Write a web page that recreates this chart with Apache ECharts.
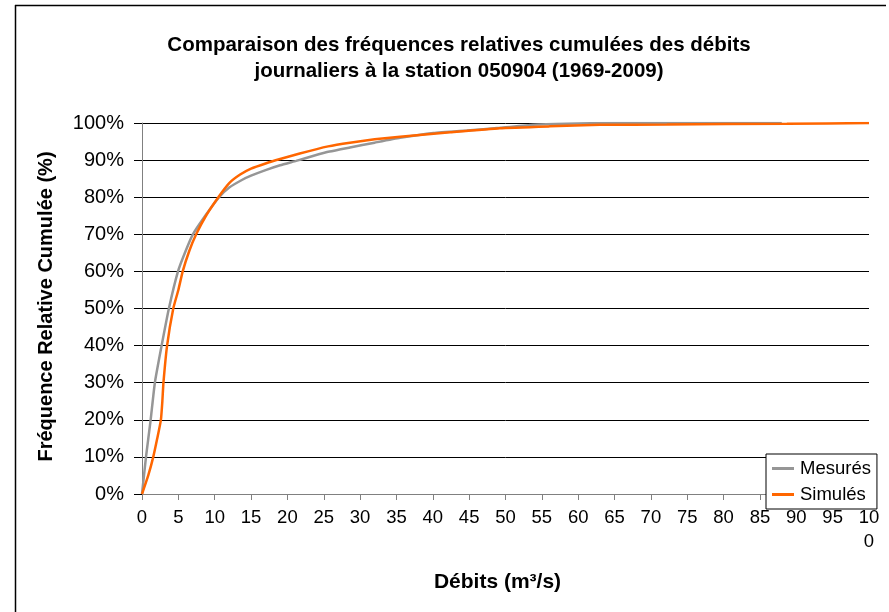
<!DOCTYPE html>
<html>
<head>
<meta charset="utf-8">
<script src="https://cdn.jsdelivr.net/npm/echarts@6/dist/echarts.min.js"></script>
<style>
html,body{margin:0;padding:0;background:#fff;}
#c{width:889px;height:612px;}
</style>
</head>
<body>
<div id="c"></div>
<script>
var titleText = 'Comparaison des fréquences relatives cumulées des débits\njournaliers à la station 050904 (1969-2009)';
var seriesNames = ['Mesurés', 'Simulés'];
var xTicks = [0,5,10,15,20,25,30,35,40,45,50,55,60,65,70,75,80,85,90,95,100];
var yTicks = [0,10,20,30,40,50,60,70,80,90,100];

var mesX = [0, 0.55, 1.19, 1.77, 2.7, 3.7, 4.95, 6.0, 7.0, 8.7, 10.6, 12.0, 13.8, 15.0, 17.0, 19.0, 21.2, 23.5, 25.8, 28.6, 32.0, 35.5, 40.1, 44.7, 49.2, 53.8, 58.4, 65, 75, 88];
var mesY = [0, 10, 20, 30, 40, 50, 60, 65.5, 70, 75, 80, 82.6, 84.7, 85.8, 87.3, 88.6, 89.8, 91.1, 92.3, 93.4, 94.7, 96.0, 97.3, 98.0, 98.7, 99.5, 99.8, 100, 100, 100];

var simX = [0, 0.86, 1.55, 2.1, 2.6, 2.8, 2.95, 3.45, 4.3, 5.0, 5.6, 6.5, 7.45, 8.8, 10.5, 12.0, 13.5, 15.0, 17.0, 19.0, 21.7, 25.6, 28.6, 32.0, 35.5, 42.4, 49.2, 56.1, 63, 72.2, 88.7, 100];
var simY = [0, 5, 10, 15, 20, 25, 30, 40, 50, 55, 60, 65.5, 70, 75, 80, 83.8, 86.1, 87.7, 89.1, 90.3, 91.8, 93.7, 94.7, 95.6, 96.3, 97.5, 98.6, 99.1, 99.5, 99.6, 99.8, 100];

function pairs(xs, ys){ return xs.map(function(x,i){ return [x, ys[i]]; }); }

var FONT = 'Liberation Sans, Arial, sans-serif';
var chart = echarts.init(document.getElementById('c'), null, {renderer:'canvas'});
chart.setOption({
  backgroundColor: '#ffffff',
  animation: false,
  title: {
    text: titleText,
    left: 454, top: 27, textAlign: 'center',
    textStyle: {fontFamily: FONT, fontSize: 20.5, fontWeight: 'bold', color: '#000', lineHeight: 26}
  },
  legend: {
    orient: 'vertical',
    left: 766, top: 454,
    backgroundColor: '#fff',
    borderColor: '#000', borderWidth: 1,
    padding: [5, 6, 5, 6],
    itemWidth: 22, itemHeight: 3, itemGap: 7,
    icon: 'rect',
    textStyle: {fontFamily: FONT, fontSize: 18.5, color: '#000', padding: [0,0,0,1]},
    data: seriesNames
  },
  grid: {left: 142, right: 20, top: 123, bottom: 118, containLabel: false},
  xAxis: {
    type: 'value', min: xTicks[0], max: xTicks[xTicks.length-1], interval: 5,
    name: 'Débits (m³/s)', nameLocation: 'middle', nameGap: 78,
    nameTextStyle: {fontFamily: FONT, fontSize: 21, fontWeight: 'bold', color: '#000', padding: [0, 16, 0, 0]},
    axisLine: {show: true, lineStyle: {color: '#808080', width: 1}},
    axisTick: {show: true, length: 6, inside: false, lineStyle: {color: '#808080'}},
    axisLabel: {
      fontFamily: FONT, fontSize: 18.5, color: '#000', margin: 12, lineHeight: 24,
      formatter: function(v){ return v === 100 ? '10\n0' : String(v); }
    },
    splitLine: {show: false}
  },
  yAxis: {
    type: 'value', min: yTicks[0], max: yTicks[yTicks.length-1], interval: 10,
    name: 'Fréquence Relative Cumulée (%)', nameLocation: 'middle', nameGap: 86, nameRotate: 90,
    nameTextStyle: {fontFamily: FONT, fontSize: 20, fontWeight: 'bold', color: '#000', padding: [0, 0, 0, 4]},
    axisLine: {show: true, lineStyle: {color: '#808080', width: 1}},
    axisTick: {show: true, length: 8, inside: false, lineStyle: {color: '#000'}},
    axisLabel: {fontFamily: FONT, fontSize: 20, color: '#000', margin: 18, formatter: '{value}%'},
    splitLine: {show: true, lineStyle: {color: '#000', width: 1}}
  },
  graphic: [
    {type: 'line', shape: {x1: 15.5, y1: 5, x2: 15.5, y2: 612}, style: {stroke: '#000', lineWidth: 1.5}, silent: true},
    {type: 'line', shape: {x1: 15, y1: 5.5, x2: 886, y2: 5.5}, style: {stroke: '#000', lineWidth: 1.5}, silent: true}
  ],
  series: [
    {name: seriesNames[0], type: 'line', data: pairs(mesX, mesY), showSymbol: false, symbol: 'none', smooth: 0.15,
     lineStyle: {color: '#969696', width: 2.5}, itemStyle: {color: '#969696'}, z: 2},
    {name: seriesNames[1], type: 'line', data: pairs(simX, simY), showSymbol: false, symbol: 'none', smooth: 0.15,
     lineStyle: {color: '#FF6600', width: 2.5}, itemStyle: {color: '#FF6600'}, z: 3}
  ]
});
</script>
</body>
</html>
